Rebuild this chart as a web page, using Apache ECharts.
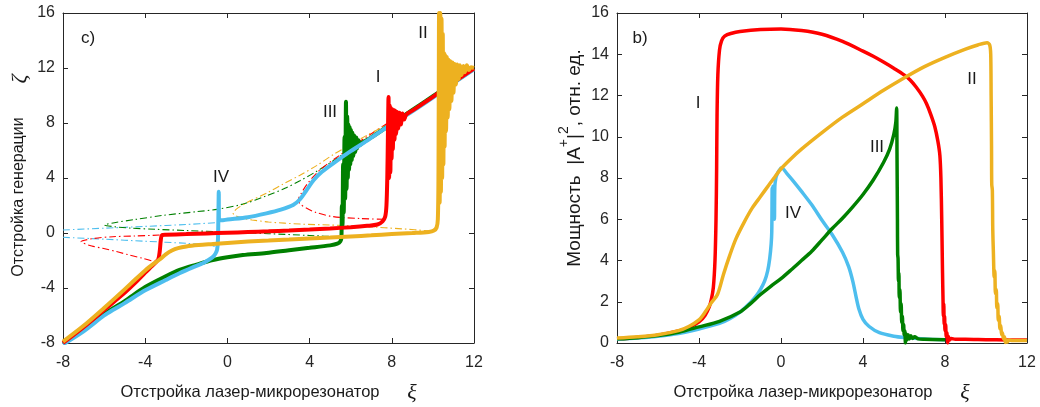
<!DOCTYPE html>
<html>
<head>
<meta charset="utf-8">
<script src="https://cdn.jsdelivr.net/npm/echarts@6/dist/echarts.min.js"></script>
<style>
html,body{margin:0;padding:0;background:#fff;}
#chart{width:1040px;height:407px;}
</style>
</head>
<body>
<div id="chart"></div>
<script>
// Axis ticks shared by both panels
const xTicks = [-8, -4, 0, 4, 8, 12];
const genTicks = [-8, -4, 0, 4, 8, 12, 16];
const powTicks = [0, 2, 4, 6, 8, 10, 12, 14, 16];

// Panel c): generation detuning zeta vs laser-microresonator detuning xi
const genI = [[-8,-8],[-7,-6.85],[-6,-5.6],[-5,-4.35],[-4.5,-3.65],[-4,-2.88],[-3.7,-2.45],[-3.5,-2.15],[-3.36,-1.9],[-3.29,-1.3],[-3.24,-0.5],[-3.18,-0.15],[-3,-0.13],[-2,-0.08],[-1,-0.03],[0,0.02],[1,0.07],[2,0.12],[3,0.18],[4,0.25],[5,0.33],[6,0.42],[6.8,0.52],[7.3,0.62],[7.55,0.85],[7.68,1.2],[7.74,2.0],[7.78,4.0],[7.81,7.0],[7.84,9.9],[7.87,4.0],[7.9,9.3],[7.93,4.4],[7.96,9.1],[7.99,5.4],[8.02,9.0],[8.05,6.1],[8.09,8.95],[8.13,6.8],[8.17,8.9],[8.21,7.2],[8.26,8.8],[8.31,7.6],[8.37,8.75],[8.44,7.9],[8.52,8.7],[8.6,8.25],[8.7,8.6],[9,8.9],[10,9.9],[11,10.95],[12,11.95]];
const genII = [[-8,-7.9],[-7,-6.75],[-6,-5.45],[-5,-4.1],[-4.5,-3.4],[-4,-2.72],[-3.6,-2.25],[-3.3,-1.93],[-3,-1.55],[-2.7,-1.27],[-2.4,-1.1],[-2,-0.98],[-1.4,-0.88],[-0.7,-0.8],[0,-0.72],[1,-0.62],[2,-0.55],[3,-0.48],[4,-0.4],[5,-0.33],[6,-0.25],[7,-0.17],[8,-0.08],[9,0.0],[9.8,0.08],[10.05,0.18],[10.18,0.4],[10.24,1.0],[10.27,4.0],[10.3,16],[10.33,2.2],[10.36,16],[10.39,3.0],[10.42,15.6],[10.45,4.0],[10.48,14.5],[10.51,5.0],[10.54,13.1],[10.57,6.3],[10.6,12.95],[10.64,7.4],[10.68,12.8],[10.72,8.4],[10.76,12.6],[10.8,9.0],[10.85,12.5],[10.9,9.6],[10.95,12.4],[11.0,10.2],[11.06,12.3],[11.12,10.8],[11.18,12.25],[11.25,11.2],[11.32,12.2],[11.4,11.5],[11.48,12.15],[11.56,11.7],[11.65,12.2],[11.75,11.85],[11.85,12.05],[12,12.0]];
const genIII = [[-8,-8.05],[-7,-7.0],[-6,-5.9],[-5.58,-5.48],[-5,-4.95],[-4,-3.93],[-3,-3.15],[-2.33,-2.69],[-1.5,-2.3],[-0.71,-1.96],[0,-1.76],[0.75,-1.6],[1.9,-1.45],[3,-1.25],[4,-1.08],[5,-0.9],[5.35,-0.78],[5.5,-0.6],[5.55,-0.3],[5.57,2.0],[5.6,0.5],[5.63,5.0],[5.66,1.5],[5.7,7.0],[5.73,2.5],[5.77,9.55],[5.8,3.2],[5.83,8.5],[5.86,4.0],[5.89,7.9],[5.92,4.6],[5.95,7.7],[5.98,5.0],[6.01,7.5],[6.05,5.3],[6.09,7.3],[6.13,5.6],[6.17,7.1],[6.22,5.9],[6.27,6.95],[6.32,6.15],[6.38,6.75],[6.45,6.4],[6.6,6.6],[7,6.95],[8,7.95],[9,8.95],[10,9.95],[11,10.95],[12,11.95]];
const genIV = [[-8,-8.1],[-7,-7.15],[-6,-6.0],[-5.58,-5.6],[-5,-5.1],[-4,-4.17],[-3,-3.42],[-2.33,-2.93],[-1.6,-2.45],[-1.2,-2.2],[-0.9,-1.95],[-0.71,-1.75],[-0.58,-1.5],[-0.5,-1.2],[-0.46,-0.5],[-0.44,1.0],[-0.42,3.0],[-0.41,0.95],[-0.3,0.92],[0,0.98],[1,1.15],[1.9,1.43],[2.6,1.7],[3.2,2.04],[3.5,2.4],[3.8,3.0],[4.2,3.85],[4.6,4.45],[5.15,5.07],[6,5.95],[6.78,6.7],[7.75,7.68],[9,8.85],[10,9.85],[11,10.9],[12,11.9]];

// Unstable branches (thin dash-dot)
const unstI_left = [[-3.3,-0.15],[-4.5,-0.22],[-5.58,-0.27],[-6.5,-0.4],[-7.12,-0.63],[-6.6,-0.95],[-6.07,-1.11],[-5.4,-1.35],[-4.77,-1.6],[-4.1,-1.85],[-3.55,-2.09]];
const unstI_right = [[7.6,1.0],[6.5,1.05],[5.15,1.19],[4.3,1.5],[3.86,1.8],[3.55,2.1],[3.45,2.4],[3.6,2.9],[3.9,3.6],[4.5,4.58],[5.48,5.67],[6.78,7.0],[7.8,8.0]];
const unstII = [[9.9,0.15],[8.5,0.3],[6.78,0.46],[5,0.58],[3.53,0.65],[2,0.8],[1.2,0.95],[0.77,1.07],[0.4,1.25],[0.28,1.43],[0.45,1.75],[1.0,2.25],[1.91,2.9],[2.7,3.55],[3.53,4.2],[4.34,4.9],[5.15,5.7],[5.96,6.4],[6.78,7.1],[7.6,7.75]];
const unstIII = [[5.64,-0.3],[4,-0.18],[2,-0.05],[0,0.07],[-2,0.18],[-3.5,0.27],[-4.77,0.36],[-5.5,0.46],[-5.98,0.58],[-5.5,0.75],[-4.5,0.98],[-3.14,1.28],[-1.5,1.55],[-0.5,1.72],[0.75,2.1],[1.9,2.7],[2.8,3.25],[3.53,3.8],[4.3,4.45],[5.15,5.25],[6,6.1],[6.78,6.8],[7.6,7.6]];
const unstIV_up = [[-8,0.22],[-6,0.35],[-4,0.48],[-2,0.62],[-0.55,0.75]];
const unstIV_low = [[-8,-0.31],[-6,-0.45],[-4,-0.6],[-2,-0.75],[-0.87,-0.87],[-0.6,-1.0],[-0.5,-1.2]];

// Panel b): output power |A+|^2 vs xi
const powI = [[-8,0.19],[-7,0.27],[-6,0.38],[-5,0.58],[-4.5,0.75],[-4,1.02],[-3.7,1.35],[-3.5,1.75],[-3.4,2.1],[-3.3,2.7],[-3.22,4],[-3.17,6],[-3.14,8.5],[-3.12,11],[-3.08,13],[-3.0,14.2],[-2.9,14.65],[-2.75,14.88],[-2.4,15.02],[-2,15.1],[-1,15.2],[0,15.23],[1,15.15],[2,14.97],[3,14.62],[4,14.15],[4.5,13.9],[5,13.62],[5.5,13.32],[6,13.0],[6.3,12.75],[6.6,12.4],[6.9,11.97],[7.1,11.6],[7.3,11.1],[7.5,10.5],[7.65,9.8],[7.75,9.1],[7.8,8.0],[7.84,6.0],[7.87,4.0],[7.89,2.8],[7.9,2.3],[7.92,1.3],[7.94,1.9],[7.96,0.9],[7.98,1.3],[8.0,0.6],[8.03,0.9],[8.06,0.3],[8.09,0.5],[8.13,0.0],[8.17,0.32],[8.22,0.15],[8.3,0.22],[8.5,0.18],[9,0.18],[10,0.16],[11,0.15],[12,0.14]];
const powII = [[-8,0.24],[-7,0.3],[-6,0.4],[-5,0.6],[-4.5,0.8],[-4,1.12],[-3.7,1.5],[-3.4,1.95],[-3.1,2.35],[-2.8,3.35],[-2.5,4.25],[-2.2,5.05],[-1.8,5.85],[-1.4,6.55],[-1,7.1],[-0.6,7.65],[-0.3,8.05],[0,8.45],[0.5,8.95],[1,9.4],[2,10.2],[3,10.95],[4,11.6],[5,12.25],[6,12.85],[7,13.4],[8,13.85],[9,14.25],[9.6,14.45],[10.05,14.56],[10.18,14.45],[10.23,14.0],[10.25,12.0],[10.27,9.5],[10.28,7.7],[10.31,7.4],[10.33,5.5],[10.36,4.4],[10.4,3.2],[10.43,3.5],[10.46,2.4],[10.5,2.6],[10.53,1.7],[10.57,1.9],[10.6,1.1],[10.64,1.3],[10.68,0.7],[10.72,0.85],[10.76,0.4],[10.8,0.5],[10.85,0.2],[10.9,0.3],[10.95,0.02],[11.0,0.15],[11.05,0.05],[11.12,0.15],[11.3,0.12],[12,0.12]];
const powIII = [[-8,0.2],[-7,0.26],[-6,0.36],[-5,0.52],[-4,0.78],[-3,1.05],[-2,1.5],[-1.5,1.9],[-1,2.35],[-0.5,2.75],[0,3.12],[0.5,3.55],[1,4.0],[1.5,4.45],[2,5.0],[2.5,5.55],[3,6.05],[3.5,6.6],[4,7.2],[4.5,7.9],[5,8.75],[5.3,9.4],[5.5,10.1],[5.6,10.7],[5.64,11.4],[5.66,9.0],[5.68,6.0],[5.69,4.3],[5.71,4.1],[5.73,3.0],[5.75,3.4],[5.77,2.2],[5.8,2.6],[5.83,1.5],[5.86,1.9],[5.89,1.0],[5.92,1.3],[5.95,0.6],[5.98,0.9],[6.01,0.4],[6.04,0.6],[6.07,0.0],[6.1,0.45],[6.14,0.15],[6.2,0.4],[6.26,0.2],[6.33,0.35],[6.42,0.22],[6.52,0.3],[6.7,0.2],[7,0.18],[8,0.16]];
const powIV = [[-8,0.18],[-7,0.24],[-6,0.33],[-5,0.46],[-4,0.68],[-3,0.95],[-2.5,1.18],[-2,1.5],[-1.5,1.95],[-1.2,2.3],[-1,2.6],[-0.8,3.0],[-0.65,3.5],[-0.55,4.1],[-0.48,4.8],[-0.45,5.4],[-0.43,7.5],[-0.41,6.0],[-0.39,7.6],[-0.37,6.1],[-0.35,7.4],[-0.32,6.0],[-0.3,7.6],[-0.25,8.0],[-0.2,8.15],[-0.1,8.35],[0.03,8.5],[0.3,8.2],[0.6,7.85],[1,7.35],[1.5,6.7],[2,5.95],[2.5,5.25],[3,4.4],[3.3,3.7],[3.5,3.0],[3.65,2.3],[3.8,1.65],[4,1.15],[4.3,0.8],[4.8,0.5],[5.5,0.33],[6,0.27],[7,0.2],[8,0.16]];

const RED = '#FF0000', ORANGE = '#EDB120', GREEN = '#008000', BLUE = '#4DBEEE';
const INK = '#262626';
const FONT = '"Liberation Sans", Arial, sans-serif';

const chart = echarts.init(document.getElementById('chart'), null, {renderer: 'canvas'});

function xAx(grid, pos, labels) {
  return {
    type: 'value', gridIndex: grid, position: pos, min: -8, max: 12, interval: 4,
    axisLine: {show: true, onZero: false, lineStyle: {color: INK, width: 1}},
    axisTick: {show: true, inside: true, length: 5, lineStyle: {color: INK}},
    axisLabel: {show: labels, color: INK, fontSize: 16, fontFamily: FONT, margin: 12},
    splitLine: {show: false}
  };
}
function yAx(grid, pos, labels, min, max, step) {
  return {
    type: 'value', gridIndex: grid, position: pos, min: min, max: max, interval: step,
    axisLine: {show: true, onZero: false, lineStyle: {color: INK, width: 1}},
    axisTick: {show: true, inside: true, length: 5, lineStyle: {color: INK}},
    axisLabel: {show: labels, color: INK, fontSize: 16, fontFamily: FONT, margin: 8},
    splitLine: {show: false}
  };
}
function thick(data, color, panel, w, z) {
  return {type: 'line', data: data, xAxisIndex: panel * 2, yAxisIndex: panel * 2,
    symbol: 'none', smooth: 0.3,
    lineStyle: {color: color, width: w}, z: z, animation: false};
}
function dashDot(data, color) {
  return {type: 'line', data: data, xAxisIndex: 0, yAxisIndex: 0, symbol: 'none', smooth: 0.3,
    lineStyle: {color: color, width: 1.1, type: [7, 3, 1.5, 3]}, z: 2, animation: false};
}
function label(x, y, text, size) {
  return {type: 'text', x: x, y: y, z: 50,
    style: {text: text, font: size + 'px ' + FONT, fill: '#1a1a1a', textAlign: 'center', textVerticalAlign: 'middle'}};
}

const option = {
  backgroundColor: '#ffffff',
  animation: false,
  grid: [
    {left: 63, right: 566, top: 13, bottom: 64},
    {left: 617, right: 13, top: 13, bottom: 64}
  ],
  xAxis: [xAx(0, 'bottom', true), xAx(0, 'top', false), xAx(1, 'bottom', true), xAx(1, 'top', false)],
  yAxis: [
    yAx(0, 'left', true, -8, 16, 4), yAx(0, 'right', false, -8, 16, 4),
    yAx(1, 'left', true, 0, 16, 2), yAx(1, 'right', false, 0, 16, 2)
  ],
  series: [
    dashDot(unstIV_up, BLUE), dashDot(unstIV_low, BLUE),
    dashDot(unstIII, GREEN), dashDot(unstI_left, RED), dashDot(unstI_right, RED),
    dashDot(unstII, ORANGE),
    thick(genIII, GREEN, 0, 4, 5), thick(genIV, BLUE, 0, 4, 6),
    thick(genI, RED, 0, 4, 7), thick(genII, ORANGE, 0, 4, 8),
    thick(powI, RED, 1, 3.5, 5), thick(powIV, BLUE, 1, 3.5, 6),
    thick(powIII, GREEN, 1, 3.5, 7), thick(powII, ORANGE, 1, 3.5, 8)
  ],
  graphic: [
    label(88, 38, 'c)', 17), label(640, 38, 'b)', 17),
    label(423, 33, 'II', 17), label(378, 77, 'I', 17), label(330, 112, 'III', 17), label(221, 177, 'IV', 17),
    label(698, 103, 'I', 17), label(972, 79, 'II', 17), label(877, 147, 'III', 17), label(793, 213, 'IV', 17),
    label(250, 392, 'Отстройка лазер-микрорезонатор', 16.5),
    label(803, 392, 'Отстройка лазер-микрорезонатор', 16.5),
    {type: 'text', x: 412, y: 393, z: 50, style: {text: 'ξ', font: 'italic 22px "Liberation Serif", serif', fill: '#1a1a1a', textAlign: 'center', textVerticalAlign: 'middle'}},
    {type: 'text', x: 965, y: 393, z: 50, style: {text: 'ξ', font: 'italic 22px "Liberation Serif", serif', fill: '#1a1a1a', textAlign: 'center', textVerticalAlign: 'middle'}},
    {type: 'text', x: 19, y: 197, rotation: Math.PI / 2, z: 50,
      style: {text: 'Отстройка генерации', font: '16px ' + FONT, fill: '#1a1a1a', textAlign: 'center', textVerticalAlign: 'middle'}},
    {type: 'text', x: 20, y: 79, rotation: Math.PI / 2, z: 50,
      style: {text: 'ζ', font: 'italic 22px "Liberation Serif", serif', fill: '#1a1a1a', textAlign: 'center', textVerticalAlign: 'middle'}},
    {type: 'text', x: 571, y: 158, rotation: Math.PI / 2, z: 50,
      style: {
        text: '{m|Мощность  |A}{s|+}{m||}{s|2}{m|, отн. ед.}',
        textAlign: 'center', textVerticalAlign: 'middle',
        rich: {
          m: {font: '19px ' + FONT, fill: '#1a1a1a', lineHeight: 27, verticalAlign: 'bottom'},
          s: {font: '14px ' + FONT, fill: '#1a1a1a', lineHeight: 27, verticalAlign: 'top'}
        }
      }}
  ]
};
chart.setOption(option);
</script>
</body>
</html>
